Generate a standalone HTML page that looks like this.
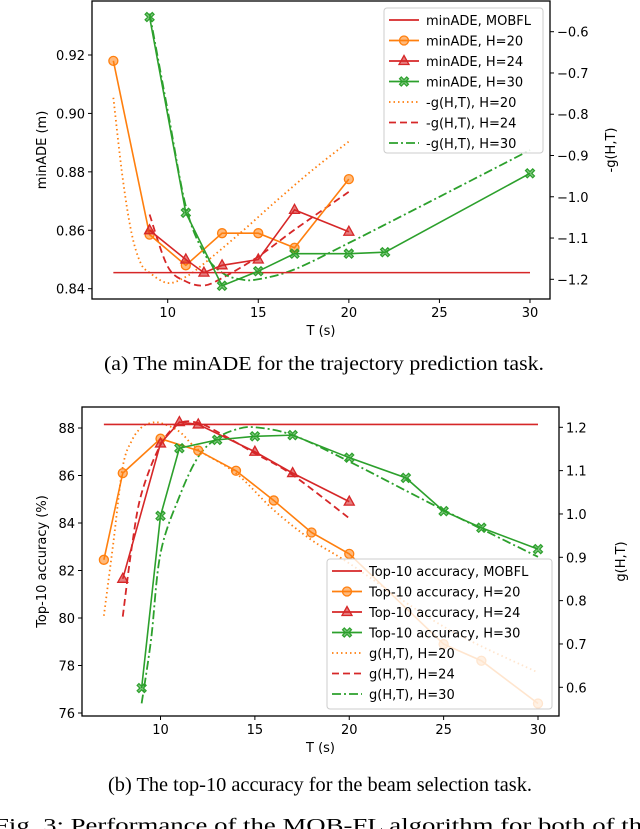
<!DOCTYPE html>
<html><head><meta charset="utf-8">
<style>
body{margin:0;background:#fff;width:640px;height:829px;overflow:hidden;}
svg{display:block;}
.tk{font-family:"DejaVu Sans","Liberation Sans",sans-serif;font-size:13px;fill:#000;}
.cap{font-family:"Liberation Serif",serif;font-size:20px;fill:#000;}
</style></head><body>
<svg id="fig" width="640" height="829" viewBox="0 0 640 829" xmlns="http://www.w3.org/2000/svg"></svg>
<script>
// ---------- Chart (a) data ----------
const aT20=[7,9,11,13,15,17,20];
const aV20=[0.918,0.8585,0.848,0.859,0.859,0.854,0.8775];
const aT24=[9,11,12,13,15,17,20];
const aV24=[0.860,0.850,0.8455,0.848,0.850,0.867,0.8595];
const aT30=[9,11,13,15,17,20,22,30];
const aV30=[0.933,0.866,0.841,0.846,0.852,0.852,0.8525,0.8795];
const aMob=0.8455;
const aG20T=[7,7.5,8,8.5,9,10,11,12,14,16,18,20];
const aG20V=[-0.760,-0.95,-1.087,-1.16,-1.184,-1.209,-1.194,-1.162,-1.088,-1.01,-0.935,-0.866];
const aG24T=[9,10,11,12,13,15,17,20];
const aG24V=[-1.043,-1.169,-1.205,-1.215,-1.197,-1.145,-1.08,-0.988];
const aG30T=[9,10,11,12,13,14,15,17,20,25,30];
const aG30V=[-0.556,-0.791,-1.023,-1.136,-1.184,-1.2,-1.2,-1.176,-1.112,-1.0,-0.887];
const aXTicks=[10,15,20,25,30];
const aYTicks=[0.84,0.86,0.88,0.90,0.92];
const aYLabels=["0.84","0.86","0.88","0.90","0.92"];
const aRTicks=[-0.6,-0.7,-0.8,-0.9,-1.0,-1.1,-1.2];
const aRLabels=["\u22120.6","\u22120.7","\u22120.8","\u22120.9","\u22121.0","\u22121.1","\u22121.2"];
// ---------- Chart (b) data ----------
const bT20=[7,8,10,12,14,16,18,20,25,27,30];
const bV20=[82.45,86.1,87.55,87.05,86.2,84.95,83.6,82.7,78.9,78.2,76.4];
const bT24=[8,10,11,12,15,17,20];
const bV24=[81.65,87.35,88.25,88.15,87.0,86.1,84.9];
const bT30=[9,10,11,13,15,17,20,23,25,27,30];
const bV30=[77.05,84.3,87.15,87.5,87.65,87.7,86.75,85.9,84.5,83.8,82.9];
const bMob=88.15;
const bG20T=[7,7.5,8,8.5,9,9.5,10,11,12,14,16,18,20,25,30];
const bG20V=[0.765,0.933,1.109,1.171,1.2,1.21,1.21,1.19,1.148,1.094,1.009,0.94,0.886,0.74,0.634];
const bG24T=[8,8.5,9,10,11,12,13,15,17,20];
const bG24V=[0.763,0.93,1.048,1.159,1.209,1.21,1.19,1.14,1.09,0.99];
const bG30T=[9,9.5,10,11,12,13,14,15,17,20,25,30];
const bG30V=[0.563,0.71,0.909,1.04,1.132,1.175,1.195,1.2,1.182,1.121,1.009,0.901];
const bXTicks=[10,15,20,25,30];
const bYTicks=[76,78,80,82,84,86,88];
const bRTicks=[0.6,0.7,0.8,0.9,1.0,1.1,1.2];
const bRLabels=["0.6","0.7","0.8","0.9","1.0","1.1","1.2"];

const NS="http://www.w3.org/2000/svg";
const svg=document.getElementById('fig');
const OR="#ff7f0e",RD="#d62728",GR="#2ca02c";
function el(tag,attrs,parent){const e=document.createElementNS(NS,tag);for(const k in attrs)e.setAttribute(k,attrs[k]);(parent||svg).appendChild(e);return e;}
function lin(d0,d1,r0,r1){return v=>r0+(v-d0)*(r1-r0)/(d1-d0);}
function smoothPath(xs,ys){
  let d="M"+xs[0]+","+ys[0];
  for(let i=0;i<xs.length-1;i++){
    const x0=xs[Math.max(i-1,0)],y0=ys[Math.max(i-1,0)];
    const x1=xs[i],y1=ys[i],x2=xs[i+1],y2=ys[i+1];
    const x3=xs[Math.min(i+2,xs.length-1)],y3=ys[Math.min(i+2,xs.length-1)];
    d+=" C"+(x1+(x2-x0)/6)+","+(y1+(y2-y0)/6)+" "+(x2-(x3-x1)/6)+","+(y2-(y3-y1)/6)+" "+x2+","+y2;
  }
  return d;
}
function marker(g,kind,x,y,c){
  let m;
  if(kind==='o'){m=el('circle',{cx:x,cy:y,r:4.5,fill:c,'fill-opacity':0.55,stroke:c,'stroke-width':1.3},g);}
  else if(kind==='^'){m=el('path',{d:`M${x},${y-5.5} L${x+5},${y+3.5} L${x-5},${y+3.5} Z`,fill:c,'fill-opacity':0.6,stroke:c,'stroke-width':1.3},g);}
  else {const s=4.5,t=1.8;
    m=el('path',{d:`M${x-s},${y-s+t} L${x-s+t},${y-s} L${x},${y-t} L${x+s-t},${y-s} L${x+s},${y-s+t} L${x+t},${y} L${x+s},${y+s-t} L${x+s-t},${y+s} L${x},${y+t} L${x-s+t},${y+s} L${x-s},${y+s-t} L${x-t},${y} Z`,fill:c,'fill-opacity':0.6,stroke:c,'stroke-width':1.2},g);}
  
  
}
function text(x,y,s,attrs,parent,name){const t=el('text',Object.assign({x:x,y:y,class:'tk'},attrs||{}),parent);t.textContent=s;return t;}
function series(g,X,Y,Ts,Vs,c,kind,name,alpha){
  const sg=el('g',{opacity:alpha||1},g);
  
  
  const pts=Ts.map((t,i)=>X(t)+","+Y(Vs[i])).join(" ");
  el('polyline',{points:pts,fill:'none',stroke:c,'stroke-width':1.6},sg);
  Ts.forEach((t,i)=>marker(sg,kind,X(t),Y(Vs[i]),c));
}
function curve(g,X,Y,Ts,Vs,c,dash,name){
  const p=el('path',{d:smoothPath(Ts.map(X),Vs.map(Y)),fill:'none',stroke:c,'stroke-width':1.8,'stroke-dasharray':dash},g);
  
  
}
function legend(g,x,y,w,h,entries,alpha){
  const lg=el('g',{},g);
  
  
  el('rect',{x:x,y:y,width:w,height:h,rx:3,fill:'#fff','fill-opacity':alpha,stroke:'#ccc','stroke-width':1},lg);
  entries.forEach((e,i)=>{
    const ey=y+12+i*20.5;
    const eg=el('g',{},lg);
    
    
    el('line',{x1:x+5,y1:ey,x2:x+35,y2:ey,stroke:e.c,'stroke-width':1.8,'stroke-dasharray':e.dash||''},eg);
    if(e.m)marker(eg,e.m,x+20,ey,e.c);
    text(x+42,ey+5,e.t,{},eg,'legend-label');
  });
}
function axes(cfg){
  const g=el('g',{});
  
  
  const {L,R,T,B}=cfg;
  const X=lin(10,30,cfg.x10,cfg.x30);
  const Y=lin(cfg.yd[0],cfg.yd[1],cfg.yr[0],cfg.yr[1]);
  const Y2=lin(cfg.rd[0],cfg.rd[1],cfg.rr[0],cfg.rr[1]);
  const plot=el('g',{},g);
  
  
  cfg.draw(plot,X,Y,Y2);
  el('rect',{x:L,y:T,width:R-L,height:B-T,fill:'none',stroke:'#000','stroke-width':1.3},g);
  cfg.xt.forEach(t=>{el('line',{x1:X(t),y1:B,x2:X(t),y2:B+4,stroke:'#000'},g);text(X(t),B+18,String(t),{'text-anchor':'middle'},g,'x-tick-label');});
  cfg.yt.forEach((t,i)=>{el('line',{x1:L-4,y1:Y(t),x2:L,y2:Y(t),stroke:'#000'},g);text(L-7,Y(t)+5,cfg.yl[i],{'text-anchor':'end'},g,'y-tick-label');});
  cfg.rt.forEach((t,i)=>{el('line',{x1:R,y1:Y2(t),x2:R+4,y2:Y2(t),stroke:'#000'},g);text(R+7,Y2(t)+5,cfg.rl[i],{},g,'right-tick-label');});
  text((L+R)/2,B+36,"T (s)",{'text-anchor':'middle'},g,'x-axis-title');
  text(0,0,cfg.ylab,{'text-anchor':'middle',transform:`translate(${cfg.ylx},${(T+B)/2}) rotate(-90)`},g,'y-axis-title');
  text(0,0,cfg.rlab,{'text-anchor':'middle',transform:`translate(${cfg.rlx},${(T+B)/2}) rotate(-90)`},g,'right-axis-title');
  if(cfg.legend)cfg.legend(g);
}
// Chart (a)
axes({name:'minade-chart',L:92,R:550,T:1,B:299,x10:167.7,x30:530,yd:[0.92,0.84],yr:[55,288.7],rd:[-0.6,-1.2],rr:[31.7,279.3],
  xt:aXTicks,yt:aYTicks,yl:aYLabels,rt:aRTicks,rl:aRLabels,ylab:"minADE (m)",rlab:"-g(H,T)",ylx:46,rlx:615,
  draw:(g,X,Y,Y2)=>{
    curve(g,X,Y2,aG20T,aG20V,OR,'1.5 3','g-curve-h20');
    curve(g,X,Y2,aG24T,aG24V,RD,'7 4','g-curve-h24');
    curve(g,X,Y2,aG30T,aG30V,GR,'9 3 2 3','g-curve-h30');
    const m=el('line',{x1:X(7),y1:Y(aMob),x2:X(30),y2:Y(aMob),stroke:RD,'stroke-width':1.6},g);
    
    series(g,X,Y,aT20,aV20,OR,'o','series-h20');
    series(g,X,Y,aT24,aV24,RD,'^','series-h24');
    series(g,X,Y,aT30,aV30,GR,'x','series-h30');
  },
  legend:g=>legend(g,384,8,159,145,[
    {t:"minADE, MOBFL",c:RD},{t:"minADE, H=20",c:OR,m:'o'},{t:"minADE, H=24",c:RD,m:'^'},{t:"minADE, H=30",c:GR,m:'x'},
    {t:"-g(H,T), H=20",c:OR,dash:'1.5 3'},{t:"-g(H,T), H=24",c:RD,dash:'7 4'},{t:"-g(H,T), H=30",c:GR,dash:'9 3 2 3'}],0.8)
});
// Chart (b)
axes({name:'accuracy-chart',L:82,R:559,T:407,B:716,x10:160.5,x30:538,yd:[88,76],yr:[428,713],rd:[1.2,0.6],rr:[427.3,687.3],
  xt:bXTicks,yt:bYTicks,yl:bYTicks.map(String),rt:bRTicks,rl:bRLabels,ylab:"Top-10 accuracy (%)",rlab:"g(H,T)",ylx:46,rlx:625,
  draw:(g,X,Y,Y2)=>{
    curve(g,X,Y2,bG20T,bG20V,OR,'1.5 3','g-curve-h20');
    curve(g,X,Y2,bG24T,bG24V,RD,'7 4','g-curve-h24');
    curve(g,X,Y2,bG30T,bG30V,GR,'9 3 2 3','g-curve-h30');
    const m=el('line',{x1:X(7),y1:Y(bMob),x2:X(30),y2:Y(bMob),stroke:RD,'stroke-width':1.6},g);
    
    series(g,X,Y,bT20,bV20,OR,'o','series-h20');
    series(g,X,Y,bT24,bV24,RD,'^','series-h24');
    series(g,X,Y,bT30,bV30,GR,'x','series-h30');
  },
  legend:g=>legend(g,327,559,225,150,[
    {t:"Top-10 accuracy, MOBFL",c:RD},{t:"Top-10 accuracy, H=20",c:OR,m:'o'},{t:"Top-10 accuracy, H=24",c:RD,m:'^'},{t:"Top-10 accuracy, H=30",c:GR,m:'x'},
    {t:"g(H,T), H=20",c:OR,dash:'1.5 3'},{t:"g(H,T), H=24",c:RD,dash:'7 4'},{t:"g(H,T), H=30",c:GR,dash:'9 3 2 3'}],0.8)
});
function cap(x,y,s,name,len){const t=el('text',{x:x,y:y,class:'cap',textLength:len,lengthAdjust:'spacingAndGlyphs'});t.textContent=s;}
cap(104,370,"(a) The minADE for the trajectory prediction task.",'caption-a',440);
cap(108,791,"(b) The top-10 accuracy for the beam selection task.",'caption-b',424);
cap(-6,832,"Fig. 3: Performance of the MOB-FL algorithm for both of the",'figure-caption',660);
</script>
</body></html>
